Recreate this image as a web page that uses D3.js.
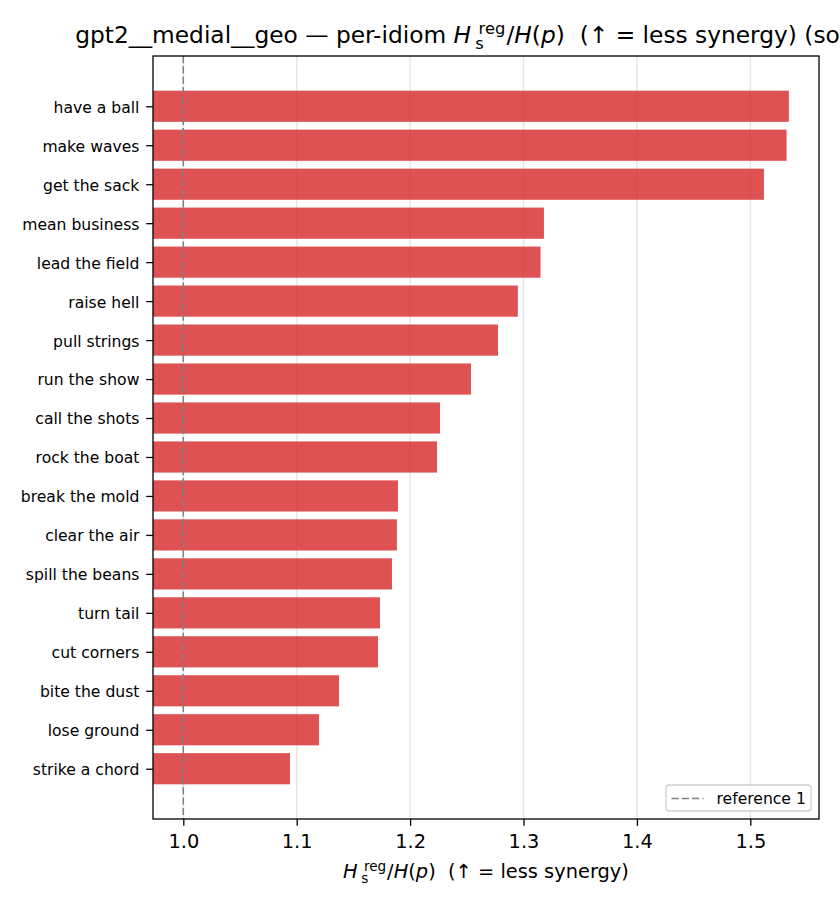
<!DOCTYPE html>
<html>
<head>
<meta charset="utf-8">
<script src="https://cdn.jsdelivr.net/npm/d3@7"></script>
<style>
  body { margin: 0; background: #fff; }
  text { font-family: "DejaVu Sans", sans-serif; white-space: pre; }
</style>
</head>
<body>
<svg id="chart" width="840" height="910"></svg>
<script>
// idioms sorted by ratio, top to bottom
var idioms = ["have a ball", "make waves", "get the sack", "mean business", "lead the field",
  "raise hell", "pull strings", "run the show", "call the shots", "rock the boat",
  "break the mold", "clear the air", "spill the beans", "turn tail", "cut corners",
  "bite the dust", "lose ground", "strike a chord"]
var ratios = [1.534, 1.532, 1.512, 1.318, 1.315, 1.295, 1.2775, 1.2537, 1.2264, 1.2237,
  1.1893, 1.1884, 1.184, 1.1734, 1.1717, 1.1373, 1.1197, 1.0941]
var xTicks = [1.0, 1.1, 1.2, 1.3, 1.4, 1.5]
var refValue = 1.0
var refLabel = "reference 1"

var svg = d3.select("#chart")
var margin = { top: 56, right: 21, bottom: 91, left: 153 }
var W = 840, H = 910
var x0 = margin.left, x1 = W - margin.right, y0 = margin.top, y1 = H - margin.bottom

var x = d3.scaleLinear().domain([0.97328, 1.56058]).range([x0, x1])
var y = d3.scaleLinear().domain([-1.29, idioms.length - 1 + 1.29]).range([y0, y1])

// draws a label with matplotlib-like math bits (italic, sub / sup stacked)
function mathText(sel, px, py, size, anchor, parts) {
  var g = sel.append("g")
  var cx = 0, subStart = 0
  parts.forEach(function (p) {
    var small = p.sub || p.sup
    var start = p.sup ? subStart + (p.dx || 0) * size : cx + (p.dx || 0) * size
    var t = g.append("text")
      .attr("x", start)
      .attr("y", py + (p.sub ? 0.26 * size : p.sup ? -0.38 * size : 0))
      .attr("font-size", small ? size * 0.7 : size)
      .attr("font-style", p.it ? "italic" : "normal")
      .attr("fill", "#000")
      .text(p.t)
    var w = t.node().getComputedTextLength()
    if (p.sub) { subStart = start; cx = start + w }
    else if (p.sup) { cx = Math.max(cx, start + w) }
    else { cx = start + w }
  })
  var shift = anchor == "middle" ? px - cx / 2 : anchor == "end" ? px - cx : px
  g.attr("transform", "translate(" + shift + ",0)")
  return g
}

function ratioParts(tail) {
  return [{ t: "H", it: true }, { t: "s", sub: true, dx: 0.18 }, { t: "reg", sup: true, dx: 0.14 },
    { t: "/", dx: 0.05 }, { t: "H", it: true }, { t: "(" }, { t: "p", it: true }, { t: ")" }, { t: tail }]
}

svg.append("defs").append("clipPath").attr("id", "plotclip")
  .append("rect").attr("x", x0).attr("y", y0).attr("width", x1 - x0).attr("height", y1 - y0)

// grid
svg.append("g").selectAll("line").data(xTicks).enter().append("line")
  .attr("x1", function (d) { return x(d) }).attr("x2", function (d) { return x(d) })
  .attr("y1", y0).attr("y2", y1)
  .attr("stroke", "#e7e7e7").attr("stroke-width", 1.56)

// bars
svg.append("g").attr("clip-path", "url(#plotclip)")
  .selectAll("rect").data(ratios).enter().append("rect")
  .attr("x", x(x.domain()[0]))
  .attr("y", function (d, i) { return y(i - 0.4) })
  .attr("width", function (d) { return x(d) - x(x.domain()[0]) })
  .attr("height", y(0.8) - y(0))
  .attr("fill", "#d62728").attr("fill-opacity", 0.8)

// reference line
svg.append("line")
  .attr("x1", x(refValue)).attr("x2", x(refValue)).attr("y1", y0).attr("y2", y1)
  .attr("stroke", "#808080").attr("stroke-width", 1.5).attr("stroke-dasharray", "7.2,3.1")

// axes
var xAxis = svg.append("g").attr("transform", "translate(0," + y1 + ")")
  .call(d3.axisBottom(x).tickValues(xTicks).tickFormat(d3.format(".1f")).tickSizeOuter(0).tickSize(6.8).tickPadding(8))
xAxis.select(".domain").remove()
xAxis.selectAll("line").attr("stroke", "#000").attr("stroke-width", 1.3)
xAxis.selectAll("text").attr("font-size", 19.4).attr("font-family", "DejaVu Sans").attr("fill", "#000")

var yAxis = svg.append("g").attr("transform", "translate(" + x0 + ",0)")
  .call(d3.axisLeft(y).tickValues(d3.range(idioms.length)).tickFormat(function (i) { return idioms[i] })
    .tickSizeOuter(0).tickSize(6.8).tickPadding(6.8))
yAxis.select(".domain").remove()
yAxis.selectAll("line").attr("stroke", "#000").attr("stroke-width", 1.3)
yAxis.selectAll("text").attr("font-size", 15.6).attr("font-family", "DejaVu Sans").attr("fill", "#000")
  .attr("dy", "0.38em")

// frame
svg.append("rect").attr("x", x0).attr("y", y0).attr("width", x1 - x0).attr("height", y1 - y0)
  .attr("fill", "none").attr("stroke", "#000").attr("stroke-width", 1.3)

// legend
var lg = svg.append("g")
lg.append("rect").attr("x", 666).attr("y", 785).attr("width", 145).attr("height", 26).attr("rx", 3)
  .attr("fill", "#fff").attr("fill-opacity", 0.8).attr("stroke", "#d0d0d0").attr("stroke-width", 1.3)
lg.append("line").attr("x1", 671.5).attr("x2", 703.5).attr("y1", 798.5).attr("y2", 798.5)
  .attr("stroke", "#808080").attr("stroke-width", 1.5).attr("stroke-dasharray", "7.2,3.1")
lg.append("text").attr("x", 716.5).attr("y", 803.5).attr("font-size", 15.6).attr("fill", "#000").text(refLabel)

// title and x label
mathText(svg, (x0 + x1) / 2, 42.5, 23.3, "middle",
  [{ t: "gpt2__medial__geo \u2014 per-idiom " }].concat(ratioParts("  (\u2191 = less synergy) (sorted)")))
mathText(svg, (x0 + x1) / 2, 878.3, 19.4, "middle", ratioParts("  (\u2191 = less synergy)"))
</script>
</body>
</html>
